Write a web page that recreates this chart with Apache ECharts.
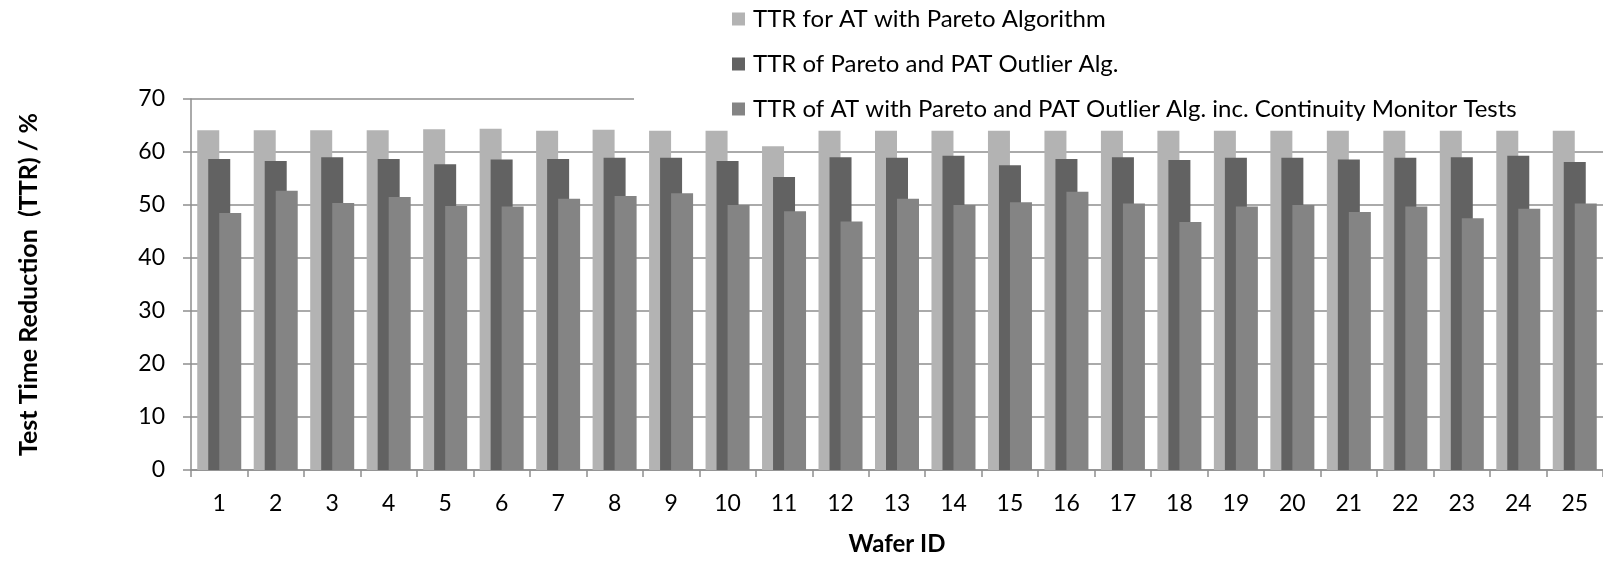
<!DOCTYPE html>
<html>
<head>
<meta charset="utf-8">
<script src="https://cdn.jsdelivr.net/npm/echarts@6/dist/echarts.min.js"></script>
<style>
  html, body { margin: 0; padding: 0; background: #fff; }
  #chart { width: 1603px; height: 561px; }
</style>
</head>
<body>
<div id="chart"></div>
<script>
// Wafer IDs on the category axis
const wafers = ['1','2','3','4','5','6','7','8','9','10','11','12','13','14','15','16','17','18','19','20','21','22','23','24','25'];

// Series names
const nameParetoOnly = 'TTR for AT with Pareto Algorithm';
const nameParetoPat = 'TTR of Pareto and PAT Outlier Alg.';
const nameParetoPatCm = 'TTR of AT with Pareto and PAT Outlier Alg. inc. Continuity Monitor Tests';

// Test time reduction (%) per wafer
const ttrParetoOnly = [64.1, 64.1, 64.1, 64.1, 64.3, 64.4, 64.0, 64.2, 64.0, 64.0, 61.1, 64.0, 64.0, 64.0, 64.0, 64.0, 64.0, 64.0, 64.0, 64.0, 64.0, 64.0, 64.0, 64.0, 64.0];
const ttrParetoPat = [58.7, 58.3, 59.0, 58.7, 57.7, 58.6, 58.7, 58.9, 58.9, 58.3, 55.3, 59.0, 58.9, 59.3, 57.5, 58.7, 59.0, 58.5, 58.9, 58.9, 58.6, 58.9, 59.0, 59.3, 58.1];
const ttrParetoPatCm = [48.5, 52.7, 50.4, 51.5, 49.8, 49.7, 51.2, 51.7, 52.2, 50.0, 48.8, 46.9, 51.2, 50.0, 50.5, 52.5, 50.3, 46.8, 49.7, 50.0, 48.7, 49.7, 47.5, 49.3, 50.3];

// Y axis ticks
const yMin = 0, yMax = 70, yStep = 10;

const FONT = 'Lato, "Liberation Sans", sans-serif';
const LINE = '#8e8e8e';

function barSeries(name, data, color) {
  return {
    name: name,
    type: 'bar',
    data: data,
    barWidth: 22,
    barGap: '-50%',
    itemStyle: { color: color },
    emphasis: { disabled: true }
  };
}

const chart = echarts.init(document.getElementById('chart'), null, { renderer: 'canvas' });
chart.setOption({
  animation: false,
  backgroundColor: '#ffffff',
  grid: { left: 191, right: -2, top: 99, bottom: 91, containLabel: false },
  legend: {
    orient: 'vertical',
    left: 634,
    top: 0,
    padding: [5, 200, 3, 98],
    backgroundColor: '#ffffff',
    itemWidth: 13,
    itemHeight: 13,
    itemGap: 17,
    icon: 'rect',
    z: 10,
    textStyle: { fontFamily: FONT, fontSize: 24, color: '#000', lineHeight: 28, padding: [0, 0, 0, 3] },
    data: [nameParetoOnly, nameParetoPat, nameParetoPatCm]
  },
  xAxis: {
    type: 'category',
    data: wafers,
    name: 'Wafer ID',
    nameLocation: 'middle',
    nameGap: 62,
    nameTextStyle: { fontFamily: FONT, fontSize: 24, fontWeight: 'bold', color: '#000' },
    axisLine: { lineStyle: { color: LINE, width: 1.5 } },
    axisTick: { show: true, length: 7, lineStyle: { color: LINE, width: 1.5 } },
    axisLabel: { fontFamily: FONT, fontSize: 23, color: '#000', margin: 22 },
    splitLine: { show: false }
  },
  yAxis: {
    type: 'value',
    min: yMin,
    max: yMax,
    interval: yStep,
    name: 'Test Time Reduction  (TTR) / %',
    nameLocation: 'middle',
    nameGap: 150,
    nameRotate: 90,
    nameTextStyle: { fontFamily: FONT, fontSize: 25, fontWeight: 'bold', color: '#000' },
    axisLine: { show: true, lineStyle: { color: LINE, width: 1.5 } },
    axisTick: { show: true, length: 8, lineStyle: { color: LINE, width: 1.5 } },
    axisLabel: { fontFamily: FONT, fontSize: 23, color: '#000', margin: 26 },
    splitLine: { show: true, lineStyle: { color: LINE, width: 1.5 } }
  },
  series: [
    barSeries(nameParetoOnly, ttrParetoOnly, '#b3b3b3'),
    barSeries(nameParetoPat, ttrParetoPat, '#626262'),
    barSeries(nameParetoPatCm, ttrParetoPatCm, '#848484')
  ]
});
</script>
</body>
</html>
